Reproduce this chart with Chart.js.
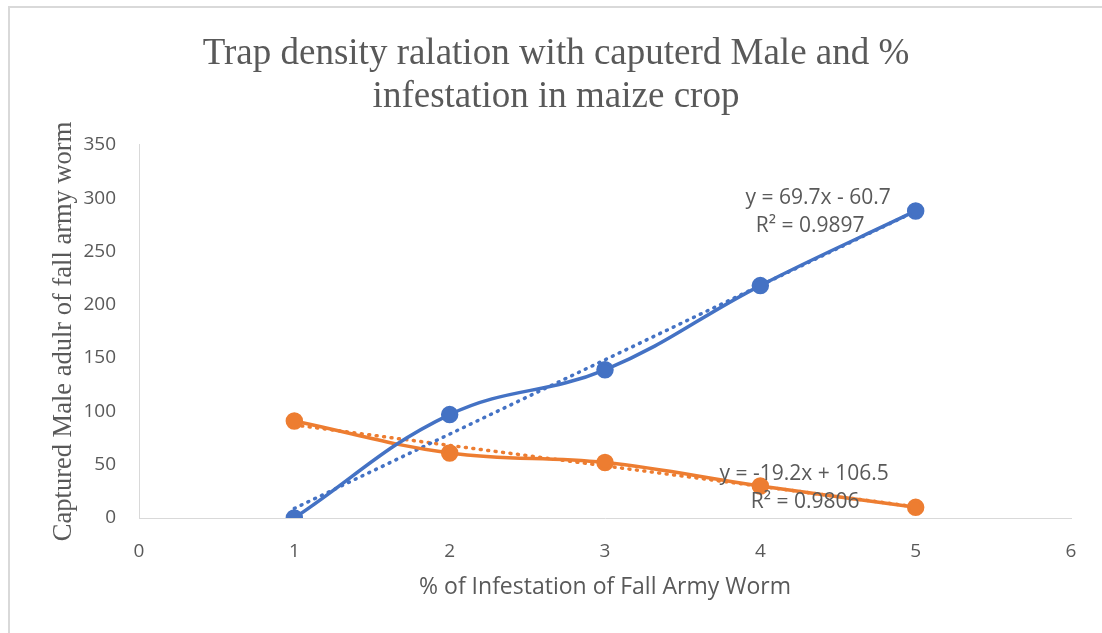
<!doctype html>
<html>

<head>
<title>Trap density relation</title>
<script src="https://cdn.jsdelivr.net/npm/chart.js@4/dist/chart.umd.min.js"></script>
<style>
body {
	margin: 0;
	background: #fff;
}
</style>
</head>

<body>
	<div id="container" style="width: 1102px; height: 633px;">
		<canvas id="canvas" width="1102" height="633"></canvas>
	</div>
	<script>
		const infestation = [1, 2, 3, 4, 5];
		const maleCaptured = [0, 97, 139, 218, 288];
		const orangeSeries = [91, 61, 52, 30, 10];
		const blueTrend = {slope: 69.7, intercept: -60.7, r2: '0.9897'};
		const orangeTrend = {slope: -19.2, intercept: 106.5, r2: '0.9806'};
		const xTicks = [0, 1, 2, 3, 4, 5, 6];
		const yTicks = [0, 50, 100, 150, 200, 250, 300, 350];

		const blue = '#4472C4';
		const orange = '#ED7D31';
		const textColor = '#595959';

		function points(ys) {
			return infestation.map((x, i) => ({x: x, y: ys[i]}));
		}

		function trendPoints(t) {
			const first = infestation[0];
			const last = infestation[infestation.length - 1];
			return [
				{x: first, y: t.slope * first + t.intercept},
				{x: last, y: t.slope * last + t.intercept}
			];
		}

		function equation(t) {
			const sign = t.intercept < 0 ? ' - ' : ' + ';
			return 'y = ' + t.slope + 'x' + sign + Math.abs(t.intercept);
		}

		// trendline labels, anchored in data units (equation line, then R² line)
		const trendLabels = [
			{t: blueTrend, x1: 4.372, y1: 300, x2: 4.321, y2: 274},
			{t: orangeTrend, x1: 4.282, y1: 41, x2: 4.289, y2: 15}
		];

		const labelPlugin = {
			id: 'trendLabels',
			afterDatasetsDraw(chart) {
				const ctx = chart.ctx;
				const xs = chart.scales.x;
				const ys = chart.scales.y;
				ctx.save();
				ctx.fillStyle = textColor;
				ctx.font = '21px "Open Sans"';
				ctx.textAlign = 'center';
				ctx.textBaseline = 'middle';
				trendLabels.forEach(l => {
					ctx.fillText(equation(l.t), xs.getPixelForValue(l.x1), ys.getPixelForValue(l.y1));
					ctx.fillText('R² = ' + l.t.r2, xs.getPixelForValue(l.x2), ys.getPixelForValue(l.y2));
				});
				ctx.restore();
			}
		};

		const framePlugin = {
			id: 'frame',
			beforeDraw(chart) {
				const ctx = chart.ctx;
				ctx.save();
				ctx.strokeStyle = '#d9d9d9';
				ctx.lineWidth = 2;
				ctx.beginPath();
				ctx.moveTo(9, chart.height);
				ctx.lineTo(9, 7);
				ctx.lineTo(chart.width, 7);
				ctx.stroke();
				ctx.restore();
			}
		};

		window.onload = function() {
			const ctx = document.getElementById('canvas').getContext('2d');
			window.myChart = new Chart(ctx, {
				type: 'scatter',
				data: {
					datasets: [{
						label: 'Captured male',
						data: points(maleCaptured),
						showLine: true,
						tension: 0.4,
						borderColor: blue,
						backgroundColor: blue,
						borderWidth: 3.5,
						pointRadius: 7,
						pointHoverRadius: 7
					}, {
						label: 'Infestation',
						data: points(orangeSeries),
						showLine: true,
						tension: 0.4,
						borderColor: orange,
						backgroundColor: orange,
						borderWidth: 3.5,
						pointRadius: 7,
						pointHoverRadius: 7
					}, {
						label: 'Linear (Captured male)',
						data: trendPoints(blueTrend),
						showLine: true,
						borderColor: blue,
						borderWidth: 3.5,
						borderDash: [1, 6.5],
						borderCapStyle: 'round',
						pointRadius: 0
					}, {
						label: 'Linear (Infestation)',
						data: trendPoints(orangeTrend),
						showLine: true,
						borderColor: orange,
						borderWidth: 3.5,
						borderDash: [1, 6.5],
						borderCapStyle: 'round',
						pointRadius: 0
					}]
				},
				options: {
					responsive: false,
					animation: false,
					layout: {
						padding: {left: 41, right: 31, top: 0, bottom: 0}
					},
					plugins: {
						legend: {display: false},
						tooltip: {enabled: false},
						title: {
							display: true,
							text: ['Trap density ralation with caputerd Male and %', 'infestation in maize crop'],
							color: textColor,
							font: {family: '"Liberation Serif", "DejaVu Serif", serif', size: 37, weight: 'normal', lineHeight: 1.16},
							padding: {top: 33, bottom: 26}
						}
					},
					scales: {
						x: {
							type: 'linear',
							min: 0,
							max: 6,
							afterBuildTicks(axis) {
								axis.ticks = xTicks.map(v => ({value: v}));
							},
							afterFit(axis) {
								axis.height = 115;
							},
							grid: {display: false, drawTicks: false},
							border: {display: true, color: '#d9d9d9', width: 1},
							ticks: {
								color: textColor,
								font: {family: '"Open Sans"', size: 19},
								padding: 22
							},
							title: {
								display: true,
								text: '% of Infestation of Fall Army Worm',
								color: textColor,
								font: {family: '"Open Sans"', size: 23},
								padding: {top: 0, bottom: 32}
							}
						},
						y: {
							type: 'linear',
							min: 0,
							max: 350,
							afterBuildTicks(axis) {
								axis.ticks = yTicks.map(v => ({value: v}));
							},
							afterFit(axis) {
								axis.width = 98;
							},
							grid: {display: false, drawTicks: false},
							border: {display: true, color: '#d9d9d9', width: 1},
							ticks: {
								color: textColor,
								font: {family: '"Open Sans"', size: 19},
								padding: 23
							},
							title: {
								display: true,
								text: 'Captured Male adulr of fall army worm',
								color: textColor,
								font: {family: '"Liberation Serif", "DejaVu Serif", serif', size: 26.5},
								padding: {top: 7, bottom: 0}
							}
						}
					}
				},
				plugins: [framePlugin, labelPlugin]
			});
		};
	</script>
</body>

</html>
